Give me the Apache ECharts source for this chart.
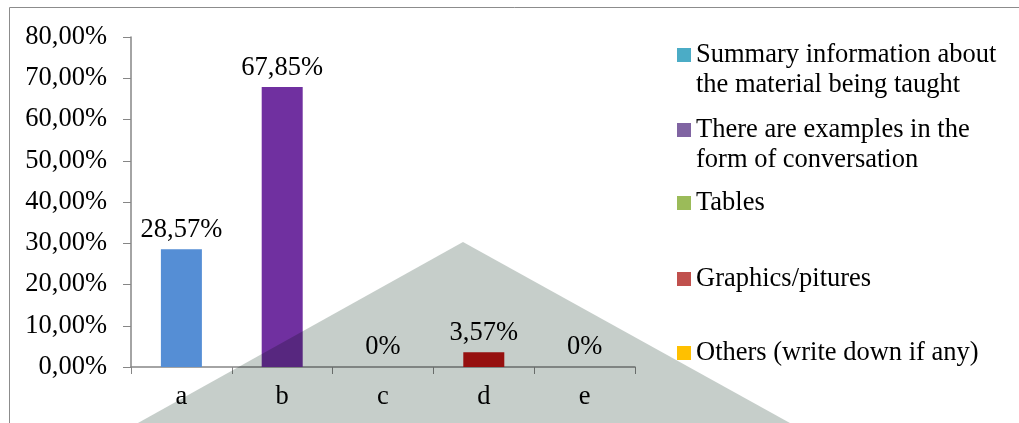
<!DOCTYPE html>
<html>
<head>
<meta charset="utf-8">
<script src="https://cdn.jsdelivr.net/npm/echarts@6/dist/echarts.min.js"></script>
<style>html,body{margin:0;padding:0;background:#fff}#c{width:1019px;height:423px}</style>
</head>
<body>
<div id="c"></div>
<script>
var categories = ['a', 'b', 'c', 'd', 'e'];
var values = [28.57, 67.85, 0, 3.57, 0];
var seriesNames = [
  'Summary information about\nthe material being taught',
  'There are examples in the\nform of conversation',
  'Tables',
  'Graphics/pitures',
  'Others (write down if any)'
];
var barColors = ['#558ed5', '#7030a0', '#9bbb59', '#c11313', '#ffc000'];
var legendColors = ['#4bacc6', '#8064a2', '#9bbb59', '#c0504d', '#ffc000'];
var yTicks = { min: 0, max: 80, interval: 10 };
var legendCenters = [55, 130, 203, 279, 353];

var FONT = "Liberation Serif";
var FS = 26.5;
var LH = 30;

function fmtPct(v) { return v === 0 ? '0%' : v.toFixed(2).replace('.', ',') + '%'; }

var series = seriesNames.map(function (name, i) {
  var data = categories.map(function (c, j) { return j === i ? values[i] : '-'; });
  return {
    name: name,
    type: 'bar',
    stack: 'all',
    barWidth: 41,
    data: data,
    itemStyle: { color: barColors[i] },
    label: {
      show: true,
      position: 'top',
      distance: 6,
      color: '#000',
      fontFamily: FONT,
      fontSize: FS,
      formatter: function (p) { return fmtPct(p.value); }
    }
  };
});

var legends = seriesNames.map(function (name, i) {
  var twoLine = name.indexOf('\n') >= 0;
  return {
    left: 677,
    top: legendCenters[i] - (twoLine ? 1.5 * LH : 0.5 * LH),
    padding: 0,
    orient: 'vertical',
    selectedMode: false,
    itemWidth: 14,
    itemHeight: 14,
    icon: 'rect',
    data: [{ name: name, itemStyle: { color: legendColors[i] } }],
    formatter: function (n) { return n.indexOf('\n') >= 0 ? '\u00a0\n' + n : n; },
    textStyle: {
      color: '#000',
      fontFamily: FONT,
      fontSize: FS,
      lineHeight: LH
    }
  };
});

var chart = echarts.init(document.getElementById('c'), null, { renderer: 'canvas' });
chart.setOption({
  animation: false,
  backgroundColor: '#fff',
  textStyle: { fontFamily: FONT },
  grid: { left: 131, right: 384, top: 37, bottom: 56, containLabel: false },
  legend: legends,
  xAxis: {
    type: 'category',
    data: categories,
    axisLine: { lineStyle: { color: '#868686', width: 1.5 } },
    axisTick: { show: true, length: 7, lineStyle: { color: '#868686' } },
    axisLabel: { color: '#000', fontFamily: FONT, fontSize: FS, margin: 17 }
  },
  yAxis: {
    type: 'value',
    min: yTicks.min,
    max: yTicks.max,
    interval: yTicks.interval,
    splitLine: { show: false },
    axisLine: { show: true, lineStyle: { color: '#868686', width: 1.5 } },
    axisTick: { show: true, length: 8, inside: false, lineStyle: { color: '#868686' } },
    axisLabel: {
      color: '#000', fontFamily: FONT, fontSize: FS, margin: 24,
      formatter: function (v) { return v.toFixed(2).replace('.', ',') + '%'; }
    }
  },
  series: series,
  graphic: [
    {
      type: 'rect', z: -10, silent: true,
      shape: { x: 9.5, y: 7.5, width: 1100, height: 600 },
      style: { fill: null, stroke: '#8c8c8c', lineWidth: 1 }
    },
    {
      type: 'polygon', z: 100, silent: true,
      shape: { points: [[120, 433], [463, 242], [808, 433]] },
      style: { fill: '#c6ceca', blend: 'multiply' }
    }
  ]
});
</script>
</body>
</html>
